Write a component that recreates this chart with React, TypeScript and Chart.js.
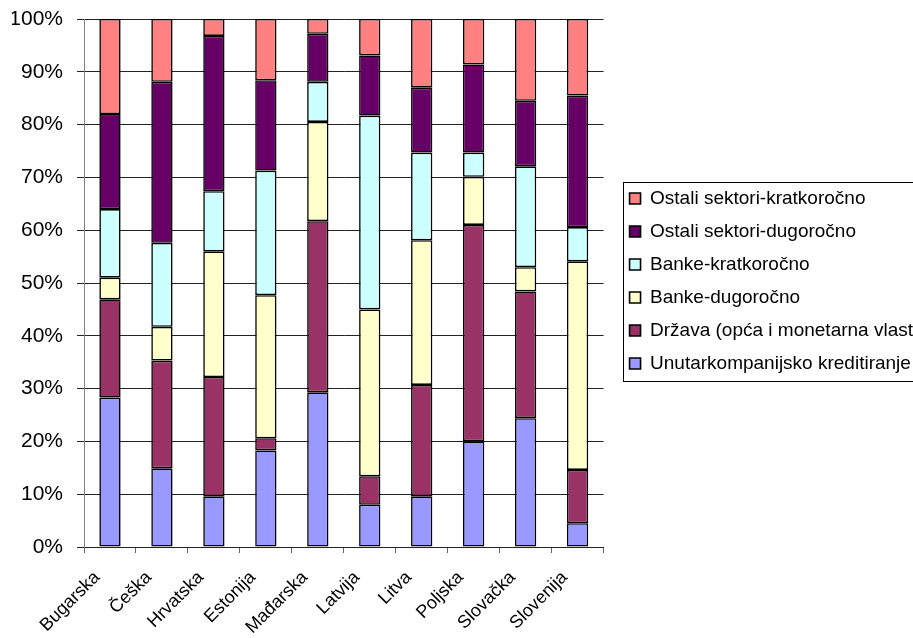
import React, { useEffect, useRef } from "react";
import { Chart, registerables } from "chart.js";

Chart.register(...registerables);

const categories = ["Bugarska", "Češka", "Hrvatska", "Estonija", "Mađarska", "Latvija", "Litva", "Poljska", "Slovačka", "Slovenija"];

const unutarkompanijsko = [28.3, 14.9, 9.6, 18.3, 29.3, 8.0, 9.6, 20.0, 24.4, 4.5];
const drzava = [18.6, 20.4, 22.6, 2.3, 32.4, 5.4, 21.1, 41.0, 24.0, 10.1];
const bankeDugorocno = [4.1, 6.4, 23.8, 27.1, 18.8, 31.6, 27.4, 9.1, 4.6, 39.5];
const bankeKratkorocno = [13.0, 15.9, 11.4, 23.6, 7.6, 36.7, 16.6, 4.6, 19.1, 6.5];
const ostaliDugorocno = [18.0, 30.5, 29.4, 17.1, 9.1, 11.4, 12.3, 16.7, 12.4, 24.9];
const ostaliKratkorocno = [18.0, 11.9, 3.2, 11.6, 2.8, 6.9, 13.0, 8.6, 15.5, 14.5];

const seriesNames = [
  "Unutarkompanijsko kreditiranje",
  "Država (opća i monetarna vlast",
  "Banke-dugoročno",
  "Banke-kratkoročno",
  "Ostali sektori-dugoročno",
  "Ostali sektori-kratkoročno",
];
const seriesColors = ["#9999FF", "#993366", "#FFFFCC", "#CCFFFF", "#660066", "#FF8080"];

const FONT = "'Liberation Sans', Arial, sans-serif";
const LEGEND_FONT = 19;
const LEGEND_PAD = 14;

// Place the legend next to the plot area (vertically centred on it), like the original.
const legendPlacement = {
  id: "legendPlacement",
  afterLayout(chart: any) {
    const lg = chart.legend;
    const ca = chart.chartArea;
    if (!lg || !ca) return;
    lg.left = ca.right + 12;
    lg.right = chart.width + 60;
    lg.width = lg.right - lg.left;
    lg.top = ca.top - 4;
    lg.bottom = ca.bottom;
    lg.height = lg.bottom - lg.top;
  },
};

const legendBorder = {
  id: "legendBorder",
  afterDraw(chart: any) {
    const lg = chart.legend;
    if (!lg) return;
    const n = chart.data.datasets.length;
    const colH = n * (LEGEND_FONT + LEGEND_PAD);
    const firstTop = (lg.top + LEGEND_PAD + lg.bottom - colH) / 2;
    const lastBottom = firstTop + (n - 1) * (LEGEND_FONT + LEGEND_PAD) + LEGEND_FONT;
    const ctx = chart.ctx;
    ctx.save();
    ctx.strokeStyle = "#000";
    ctx.lineWidth = 1;
    const x = Math.round(lg.left + LEGEND_PAD - 7) + 0.5;
    const y = Math.round(firstTop - 7) + 0.5;
    const y2 = Math.round(lastBottom + 8) + 0.5;
    ctx.strokeRect(x, y, chart.width + 20 - x, y2 - y);
    ctx.restore();
  },
};

export default function App() {
  const ref = useRef<HTMLCanvasElement | null>(null);
  useEffect(() => {
    document.body.style.margin = "0";
    document.body.style.overflow = "hidden";
    const canvas = ref.current!;
    const data = [unutarkompanijsko, drzava, bankeDugorocno, bankeKratkorocno, ostaliDugorocno, ostaliKratkorocno];
    const chart = new Chart(canvas, {
      type: "bar",
      data: {
        labels: categories,
        datasets: data.map((d, i) => ({
          label: seriesNames[i],
          data: d,
          backgroundColor: seriesColors[i],
          borderColor: "#000",
          borderWidth: 1.6,
          borderSkipped: false,
          categoryPercentage: 1,
          barPercentage: 0.41,
        })),
      },
      options: {
        responsive: false,
        animation: false,
        layout: { padding: { top: 19, left: 12, bottom: 0, right: 2 } },
        plugins: {
          tooltip: { enabled: false },
          legend: {
            position: "right",
            reverse: true,
            maxWidth: 310,
            labels: {
              boxWidth: 11,
              boxHeight: 11,
              padding: LEGEND_PAD,
              color: "#000",
              font: { family: FONT, size: LEGEND_FONT },
            },
          },
        },
        scales: {
          x: {
            stacked: true,
            offset: true,
            afterFit: (scale: any) => {
              scale.paddingLeft = 0;
              scale.paddingRight = 0;
              scale.height = 91;
            },
            grid: {
              display: true,
              offset: true,
              drawOnChartArea: false,
              drawTicks: true,
              tickLength: 6,
              color: "#666",
            },
            border: { display: true, color: "#222", width: 1 },
            ticks: {
              color: "#000",
              font: { family: FONT, size: 18 },
              maxRotation: 45,
              minRotation: 45,
              autoSkip: false,
              padding: 14,
              labelOffset: -13,
            },
          },
          y: {
            stacked: true,
            min: 0,
            max: 100,
            afterFit: (scale: any) => {
              scale.width = 72;
              scale.paddingTop = 0;
              scale.paddingBottom = 0;
            },
            grid: { color: "#222", tickLength: 7, lineWidth: 1 },
            border: { display: true, color: "#808080", width: 1 },
            ticks: {
              stepSize: 10,
              color: "#000",
              padding: 14,
              font: { family: FONT, size: 21 },
              callback: (v: any) => v + "%",
            },
          },
        },
      },
      plugins: [legendPlacement, legendBorder],
    });
    return () => chart.destroy();
  }, []);
  return (
    <div style={{ width: 913, height: 638, background: "#fff" }}>
      <canvas ref={ref} width={913} height={638} />
    </div>
  );
}
